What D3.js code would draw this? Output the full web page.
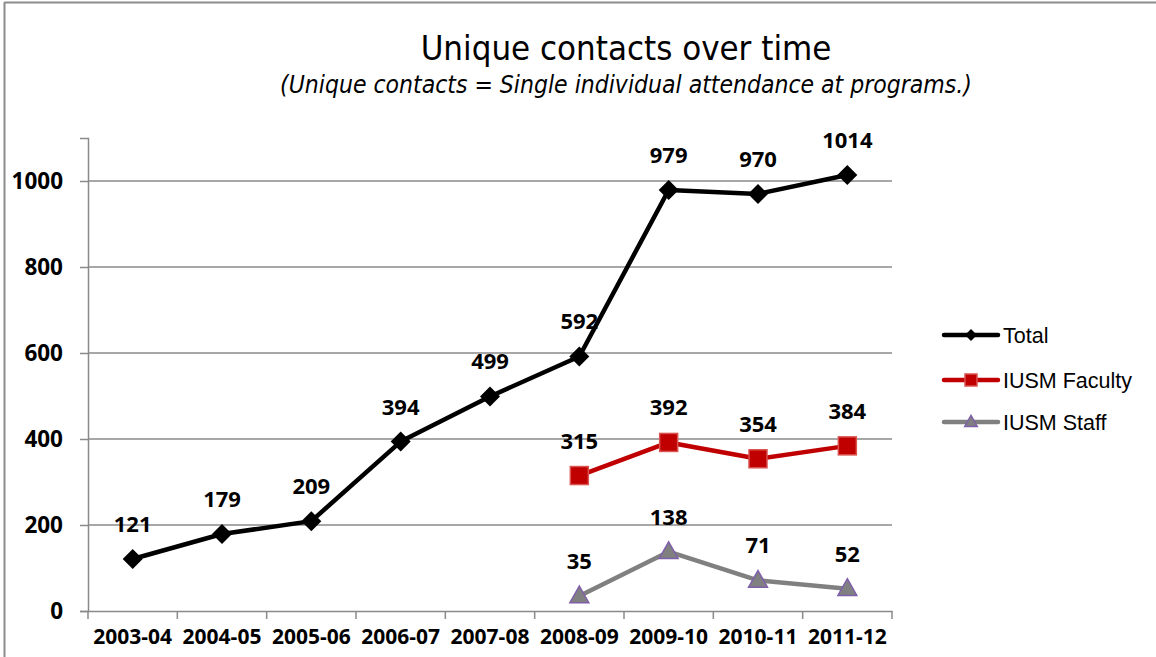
<!DOCTYPE html>
<html><head><meta charset="utf-8">
<script src="https://cdn.jsdelivr.net/npm/d3@7"></script>
<style>body{margin:0;background:#fff}svg{display:block}</style>
</head><body>
<svg id="c" width="1156" height="657"></svg>
<script>
const categories = ["2003-04","2004-05","2005-06","2006-07","2007-08","2008-09","2009-10","2010-11","2011-12"];
const totalValues = [121,179,209,394,499,592,979,970,1014];
const facultyValues = [null,null,null,null,null,315,392,354,384];
const staffValues = [null,null,null,null,null,35,138,71,52];
const yTicks = [0,200,400,600,800,1000];
const seriesNames = ["Total","IUSM Faculty","IUSM Staff"];

const svg = d3.select("#c");
const W = 1156, H = 657;
const m = {left:88, right:892, top:138, bottom:611};
const LF = "Open Sans, Liberation Sans, Arial, sans-serif";

// outer frame
svg.append("line").attr("x1",4.5).attr("x2",W).attr("y1",2.5).attr("y2",2.5).attr("stroke","#8c8c8c").attr("stroke-width",2);
svg.append("line").attr("x1",4.5).attr("x2",4.5).attr("y1",2).attr("y2",H).attr("stroke","#8c8c8c").attr("stroke-width",2);

const x = d3.scaleBand().domain(categories).range([m.left,m.right]).padding(0);
const y = d3.scaleLinear().domain([0,1100]).range([m.bottom,m.top]);
const cx = d => x(d) + x.bandwidth()/2;

// gridlines
svg.append("g").selectAll("line").data(yTicks.filter(t=>t>0)).join("line")
  .attr("x1",m.left).attr("x2",m.right).attr("y1",d=>y(d)).attr("y2",d=>y(d))
  .attr("stroke","#8a8a8a").attr("stroke-width",1.5);

// y axis
const yAxis = d3.axisLeft(y).tickValues(yTicks).tickSize(8).tickPadding(17).tickFormat(d3.format("d"));
const gy = svg.append("g").attr("transform",`translate(${m.left},0)`).call(yAxis);
gy.select(".domain").attr("stroke","#8a8a8a").attr("stroke-width",1.5);
gy.selectAll(".tick line").attr("stroke","#8a8a8a").attr("stroke-width",1.5);
gy.selectAll("text").attr("font-family",LF).attr("font-weight","bold").attr("font-size","22.5px").attr("fill","#000");

// x axis
const gx = svg.append("g").attr("transform",`translate(0,${m.bottom})`).call(d3.axisBottom(x).tickSize(0).tickPadding(18));
gx.select(".domain").attr("stroke","#8a8a8a").attr("stroke-width",1.5);
gx.selectAll("text").attr("font-family",LF).attr("font-weight","bold").attr("font-size","21px").attr("fill","#000");
// boundary ticks
const bounds = categories.map(c=>x(c)).concat([m.right]);
svg.append("g").selectAll("line").data(bounds).join("line")
  .attr("x1",d=>d).attr("x2",d=>d).attr("y1",m.bottom).attr("y2",m.bottom+8)
  .attr("stroke","#8a8a8a").attr("stroke-width",1.5);

const series = [
  {name:seriesNames[0], values:totalValues, line:"#000000", fill:"#000000", stroke:"#000000", shape:"diamond"},
  {name:seriesNames[1], values:facultyValues, line:"#c00000", fill:"#c00000", stroke:"#d9534f", shape:"square"},
  {name:seriesNames[2], values:staffValues, line:"#808080", fill:"#808080", stroke:"#7e5fa8", shape:"triangle"}
];

function marker(g, shape, px, py, s){
  if(shape==="diamond"){
    g.append("path").attr("d",`M${px},${py-s}L${px+s},${py}L${px},${py+s}L${px-s},${py}Z`);
  } else if(shape==="square"){
    g.append("rect").attr("x",px-s).attr("y",py-s).attr("width",2*s).attr("height",2*s);
  } else {
    g.append("path").attr("d",`M${px},${py-s*1.1}L${px+s*1.05},${py+s*0.75}L${px-s*1.05},${py+s*0.75}Z`);
  }
}

series.forEach(s=>{
  const pts = categories.map((c,i)=>({c, v:s.values[i]})).filter(d=>d.v!=null);
  const line = d3.line().x(d=>cx(d.c)).y(d=>y(d.v));
  svg.append("path").datum(pts).attr("d",line).attr("fill","none")
    .attr("stroke",s.line).attr("stroke-width",4.5).attr("stroke-linejoin","round");
  const mg = svg.append("g").attr("fill",s.fill).attr("stroke",s.stroke).attr("stroke-width",s.shape==="diamond"?0:1.5);
  pts.forEach(d=>marker(mg, s.shape, cx(d.c), y(d.v), s.shape==="diamond"?10:9));
  svg.append("g").selectAll("text").data(pts).join("text")
    .attr("x",d=>cx(d.c)).attr("y",d=>y(d.v)-27)
    .attr("text-anchor","middle")
    .attr("font-family",LF).attr("font-weight","bold").attr("font-size","22px")
    .attr("fill","#000").text(d=>d.v);
});

// legend
const lg = svg.append("g");
const legY = [335,380,422];
series.forEach((s,i)=>{
  const g = lg.append("g");
  g.append("line").attr("x1",944).attr("x2",998).attr("y1",legY[i]).attr("y2",legY[i])
    .attr("stroke",s.line).attr("stroke-width",4.5).attr("stroke-linecap","round");
  const mg = g.append("g").attr("fill",s.fill).attr("stroke",s.stroke).attr("stroke-width",s.shape==="diamond"?0:1.5);
  marker(mg, s.shape, 971, legY[i], 6);
  g.append("text").attr("x",1003).attr("y",legY[i]+8)
    .attr("font-family","Liberation Sans, Arial, sans-serif").attr("font-size","21.5px").attr("fill","#000").text(s.name);
});

// titles
svg.append("text").attr("x",626).attr("y",60).attr("text-anchor","middle")
  .attr("font-family","DejaVu Sans, sans-serif").attr("font-stretch","condensed").attr("font-size","34.5px").attr("fill","#000")
  .text("Unique contacts over time");
svg.append("text").attr("x",626).attr("y",93).attr("text-anchor","middle")
  .attr("font-family","DejaVu Sans, sans-serif").attr("font-stretch","condensed").attr("font-style","italic").attr("font-size","24.5px").attr("fill","#000")
  .text("(Unique contacts = Single individual attendance at programs.)");
</script>
</body></html>
